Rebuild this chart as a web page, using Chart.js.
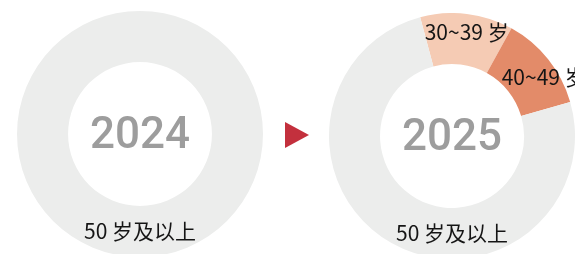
<!DOCTYPE html>
<html>
<head>
<meta charset="utf-8">
<script src="https://cdn.jsdelivr.net/npm/chart.js@4"></script>
<style>
    html, body { margin: 0; padding: 0; background: #fff; width: 577px; height: 254px; overflow: hidden; }
    .box { position: absolute; width: 246px; height: 246px; }
    #box2024 { left: 17px; top: 11px; }
    #box2025 { left: 329px; top: 13px; }
    .arrow {
        position: absolute; left: 285px; top: 122px; width: 24px; height: 26px;
        background: #c3303d; clip-path: polygon(0 0, 100% 50%, 0 100%);
    }
</style>
</head>
<body>
<div class="box" id="box2024"><canvas id="chart2024"></canvas></div>
<div class="arrow"></div>
<div class="box" id="box2025"><canvas id="chart2025"></canvas></div>
<script>
// Age groups and shares (%)
const ageGroups = ['30~39 岁', '40~49 岁', '50 岁及以上'];
const share2024 = [0, 0, 100];
const share2025 = [12.2, 12.5, 75.3];
const groupColors = ['#f5cbb4', '#e38b69', '#ecedec'];

// Draw centre year and segment labels
const donutText = {
    id: 'donutText',
    afterDatasetsDraw(chart, args, opts) {
        const ctx = chart.ctx;
        const meta = chart.getDatasetMeta(0);
        const first = meta.data[0];
        const cx = first.x, cy = first.y;
        ctx.save();
        ctx.textAlign = 'center';
        ctx.textBaseline = 'alphabetic';

        // year in the middle
        ctx.fillStyle = '#9d9d9d';
        ctx.font = '500 44px Roboto';
        ctx.fillText(opts.year, cx, cy + 14);

        ctx.textBaseline = 'middle';
        ctx.fillStyle = '#151515';
        ctx.font = '21px "Noto Sans CJK SC"';
        const values = chart.data.datasets[0].data;
        meta.data.forEach((arc, i) => {
            if (!values[i]) return;
            const mid = (arc.innerRadius + arc.outerRadius) / 2;
            const last = i === values.length - 1;
            const angle = last ? Math.PI / 2 : (arc.startAngle + arc.endAngle) / 2;
            const r = last ? mid : mid + 7;
            const dx = i === 1 ? 10 : (i === 0 ? 2 : 0);
            const dy = i === 1 ? 6 : 0;
            ctx.fillText(chart.data.labels[i], cx + Math.cos(angle) * r + dx, cy + Math.sin(angle) * r + dy);
        });
        ctx.restore();
    }
};

function makeDonut(id, values, year, rotation) {
    return new Chart(document.getElementById(id), {
        type: 'doughnut',
        data: {
            labels: ageGroups,
            datasets: [{
                data: values,
                backgroundColor: groupColors,
                borderWidth: 0
            }]
        },
        options: {
            responsive: true,
            maintainAspectRatio: true,
            animation: false,
            cutout: '58.5%',
            rotation: rotation,
            layout: { padding: 0 },
            plugins: {
                legend: { display: false },
                tooltip: { enabled: false },
                donutText: { year: year }
            }
        },
        plugins: [donutText]
    });
}

makeDonut('chart2024', share2024, '2024', 0);
makeDonut('chart2025', share2025, '2025', -15);
</script>
</body>
</html>
